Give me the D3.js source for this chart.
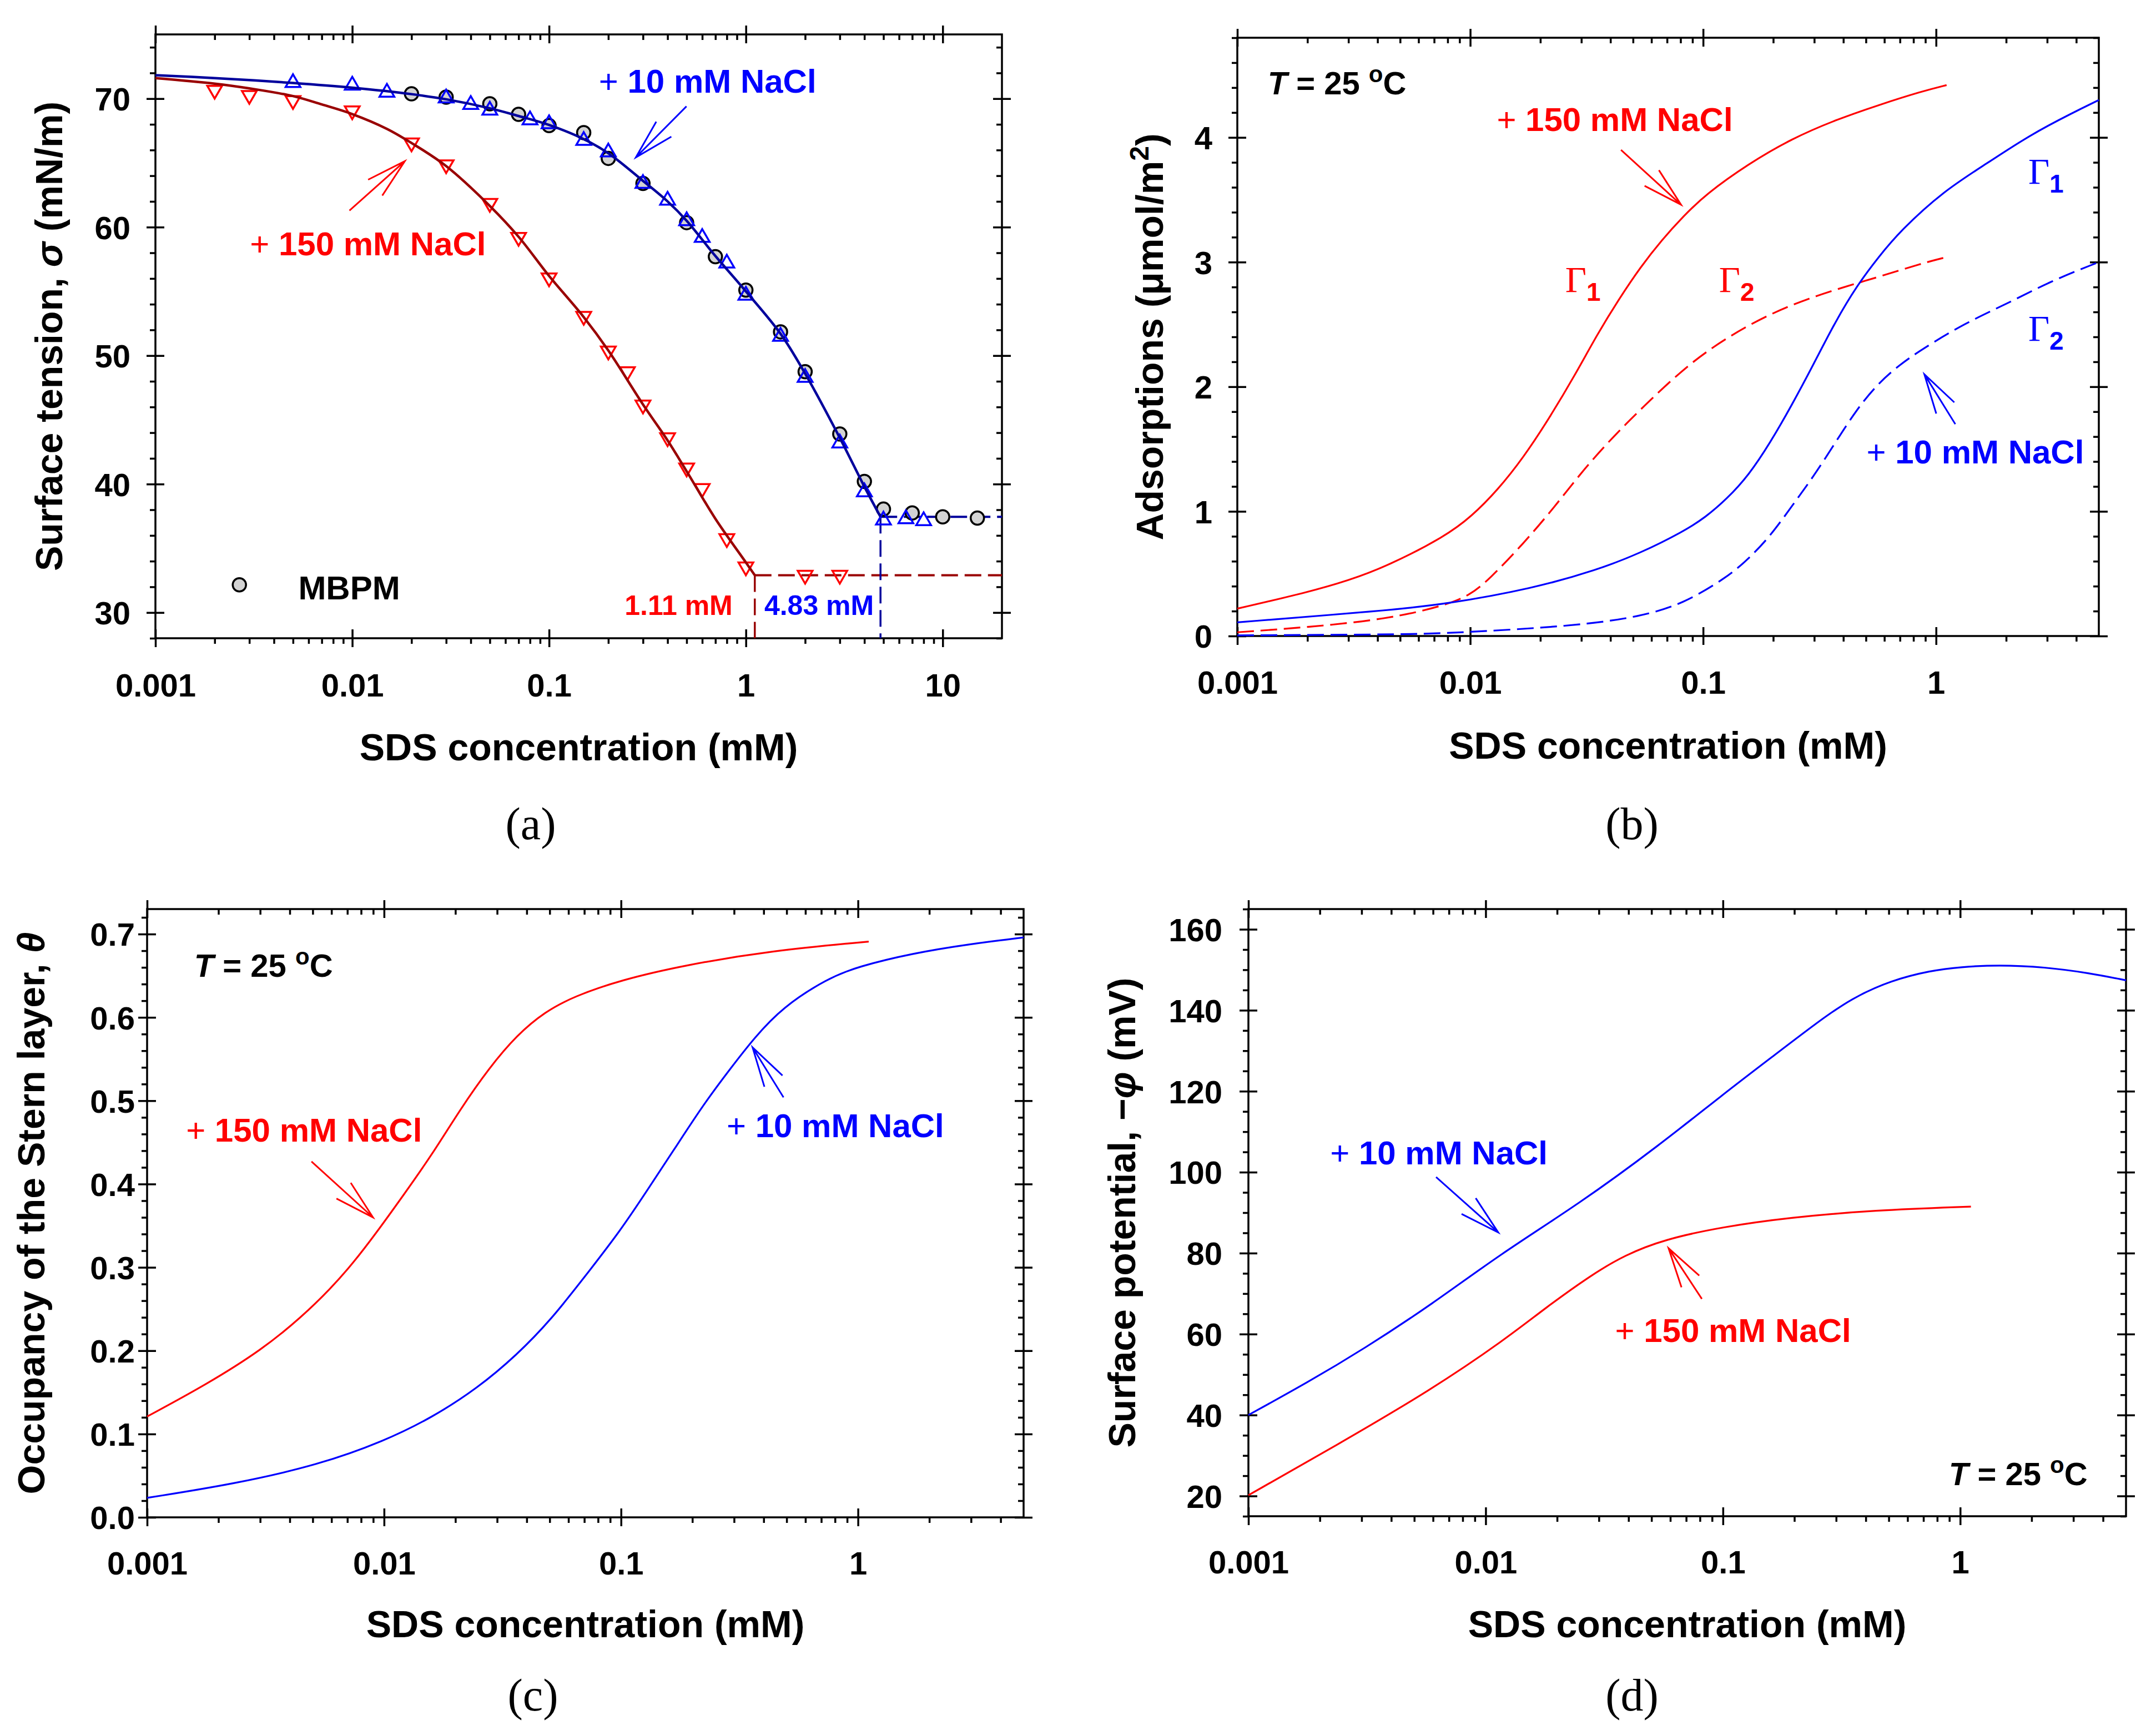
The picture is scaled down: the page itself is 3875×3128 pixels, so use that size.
<!DOCTYPE html>
<html><head><meta charset="utf-8">
<script src="https://cdn.jsdelivr.net/npm/d3@7"></script>
<style>body{margin:0;background:#fff}svg{display:block}</style>
</head><body>
<script>
// ================= DATA =================
// tick values / labels
const xTicksA = [0.001, 0.01, 0.1, 1, 10];
const xLabelsA = ["0.001", "0.01", "0.1", "1", "10"];
const xTicksBCD = [0.001, 0.01, 0.1, 1];
const xLabelsBCD = ["0.001", "0.01", "0.1", "1"];
const yTicksA = [30, 40, 50, 60, 70];
const yLabelsA = ["30", "40", "50", "60", "70"];
const yTicksB = [0, 1, 2, 3, 4];
const yLabelsB = ["0", "1", "2", "3", "4"];
const yTicksC = [0, 0.1, 0.2, 0.3, 0.4, 0.5, 0.6, 0.7];
const yLabelsC = ["0.0", "0.1", "0.2", "0.3", "0.4", "0.5", "0.6", "0.7"];
const yTicksD = [20, 40, 60, 80, 100, 120, 140, 160];
const yLabelsD = ["20", "40", "60", "80", "100", "120", "140", "160"];

// ---- panel (a): surface tension ----
const concA10 = [0.005, 0.01, 0.015, 0.03, 0.04, 0.05, 0.08, 0.1, 0.15, 0.2, 0.3, 0.4, 0.5, 0.6, 0.8, 1, 1.5, 2, 3, 4, 5, 6.5, 8];
const sigmaA10 = [71.4, 71.2, 70.65, 70.2, 69.7, 69.25, 68.5, 68.2, 66.9, 66.0, 63.55, 62.25, 60.65, 59.35, 57.35, 54.85, 51.65, 48.45, 43.35, 39.55, 37.35, 37.45, 37.3];
const concMBPM = [0.02, 0.03, 0.05, 0.07, 0.1, 0.15, 0.2, 0.3, 0.5, 0.7, 1, 1.5, 2, 3, 4, 5, 7, 10, 15];
const sigmaMBPM = [70.38, 70.12, 69.6, 68.78, 67.9, 67.35, 65.35, 63.4, 60.35, 57.7, 55.1, 51.85, 48.75, 43.9, 40.2, 38.05, 37.75, 37.45, 37.35];
const concA150 = [0.002, 0.003, 0.005, 0.01, 0.02, 0.03, 0.05, 0.07, 0.1, 0.15, 0.2, 0.25, 0.3, 0.4, 0.5, 0.6, 0.8, 1.0, 2, 3];
const sigmaA150 = [70.5, 70.1, 69.7, 68.9, 66.4, 64.7, 61.7, 59.05, 55.9, 52.9, 50.2, 48.6, 46.0, 43.45, 41.1, 39.5, 35.6, 33.4, 32.75, 32.75];
const fitA10 = [[0.001, 71.83], [0.002, 71.6], [0.005, 71.22], [0.01, 70.85], [0.02, 70.35], [0.03, 69.95], [0.05, 69.25], [0.07, 68.65], [0.1, 67.95], [0.15, 66.85], [0.2, 65.75], [0.3, 63.6], [0.4, 62.0], [0.5, 60.5], [0.7, 57.75], [1, 55.0], [1.5, 51.7], [2, 48.6], [3, 43.6], [4, 39.8], [4.83, 37.45]];
const fitA150 = [[0.001, 71.6], [0.002, 71.17], [0.003, 70.8], [0.005, 70.2], [0.007, 69.55], [0.01, 68.8], [0.015, 67.65], [0.02, 66.55], [0.03, 64.75], [0.05, 61.65], [0.07, 59.25], [0.1, 56.2], [0.15, 53.0], [0.2, 50.4], [0.3, 46.2], [0.4, 43.4], [0.5, 41.0], [0.7, 37.3], [1.0, 33.9], [1.11, 32.9]];
const cmcA = [1.11, 4.83];
const sigmaCmcA = [32.9, 37.45];
const cmcLabelsA = ["1.11 mM", "4.83 mM"];

// ---- panel (b): adsorptions ----
const gamma1_150 = [[0.001, 0.22], [0.002, 0.35], [0.003, 0.445], [0.0044, 0.56], [0.00783, 0.80], [0.01014, 0.96], [0.0131, 1.17], [0.0169, 1.43], [0.0219, 1.75], [0.0283, 2.10], [0.0351, 2.42], [0.0434, 2.70], [0.0538, 2.96], [0.0666, 3.18], [0.0825, 3.37], [0.102, 3.54], [0.157, 3.79], [0.24, 3.99], [0.369, 4.14], [0.566, 4.26], [0.869, 4.37], [1.11, 4.42]];
const gamma2_150 = [[0.001, 0.03], [0.002, 0.07], [0.0044, 0.135], [0.00783, 0.245], [0.01, 0.33], [0.012, 0.45], [0.0169, 0.74], [0.0229, 1.03], [0.0308, 1.34], [0.0416, 1.61], [0.0561, 1.85], [0.0757, 2.08], [0.102, 2.28], [0.157, 2.50], [0.24, 2.66], [0.369, 2.78], [0.566, 2.88], [0.869, 2.99], [1.11, 3.04]];
const gamma1_10 = [[0.001, 0.11], [0.0044, 0.205], [0.00783, 0.255], [0.01845, 0.38], [0.0351, 0.53], [0.0538, 0.665], [0.0825, 0.84], [0.102, 0.95], [0.1265, 1.10], [0.157, 1.29], [0.194, 1.55], [0.24, 1.85], [0.298, 2.18], [0.369, 2.52], [0.457, 2.81], [0.566, 3.04], [0.702, 3.25], [1.077, 3.57], [1.65, 3.79], [2.53, 4.02], [3.88, 4.20], [5, 4.30]];
const gamma2_10 = [[0.001, 0.005], [0.0044, 0.012], [0.00783, 0.02], [0.0283, 0.08], [0.0538, 0.155], [0.0825, 0.26], [0.1265, 0.47], [0.157, 0.62], [0.194, 0.80], [0.24, 1.04], [0.298, 1.28], [0.369, 1.55], [0.457, 1.82], [0.566, 2.03], [0.702, 2.18], [0.869, 2.30], [1.33, 2.51], [2.04, 2.67], [3.13, 2.85], [5, 3.0]];

// ---- panel (c): occupancy theta ----
const theta150 = [[0.001, 0.121], [0.00177, 0.159], [0.00307, 0.2016], [0.00451, 0.241], [0.00593, 0.274], [0.0074, 0.305], [0.0092, 0.340], [0.0121, 0.387], [0.016, 0.436], [0.021, 0.490], [0.0277, 0.539], [0.0364, 0.579], [0.0479, 0.607], [0.0631, 0.625], [0.1, 0.645], [0.188, 0.663], [0.428, 0.680], [1.11, 0.691]];
const theta10 = [[0.001, 0.0234], [0.00233, 0.040], [0.0053, 0.063], [0.01, 0.0914], [0.016, 0.120], [0.0248, 0.155], [0.0364, 0.195], [0.0506, 0.237], [0.07, 0.288], [0.1, 0.345], [0.128, 0.391], [0.169, 0.443], [0.222, 0.495], [0.292, 0.540], [0.364, 0.575], [0.479, 0.612], [0.746, 0.647], [1, 0.661], [1.7, 0.677], [2.95, 0.688], [5, 0.696]];

// ---- panel (d): surface potential ----
const psi10 = [[0.001, 40.0], [0.00177, 48.0], [0.00306, 56.3], [0.00592, 67.3], [0.01148, 79.7], [0.0248, 92.2], [0.0535, 106.5], [0.1, 119.2], [0.1614, 128.5], [0.251, 137.1], [0.349, 143.0], [0.513, 147.4], [0.752, 149.8], [1, 150.7], [1.45, 151.2], [2.26, 150.7], [3.51, 149.2], [5, 147.4]];
const psi150 = [[0.001, 20.2], [0.00233, 32.4], [0.00592, 46.3], [0.0121, 58.7], [0.0178, 66.4], [0.0277, 74.5], [0.0385, 79.5], [0.0566, 83.4], [0.1, 86.5], [0.19, 88.8], [0.433, 90.6], [1.11, 91.5]];

// ---- annotation anchors (data units) ----
const labelPosA = [[0.179, 70.47], [0.00302, 57.8]];           // +10, +150
const arrowsA = [[[0.276, 65.43], [0.499, 69.4]], [[0.0185, 65.13], [0.00968, 61.29]]]; // [tip, tail]
const legendA = [[0.00267, 32.16], [0.00532, 31.03]];
const labelPosB = [[0.503, 1.385], [0.0130, 4.05]];
const arrowsB = [[[0.891, 2.10], [1.21, 1.70]], [[0.0804, 3.46], [0.0444, 3.90]]];
const gammaPosB = [[0.0256, 2.76], [0.117, 2.76], [2.49, 3.63], [2.49, 2.37]];
const tempPosB = [0.00135, 4.345];
const labelPosC = [[0.279, 0.456], [0.00146, 0.451]];
const arrowsC = [[[0.359, 0.564], [0.485, 0.504]], [[0.00898, 0.360], [0.00494, 0.427]]];
const tempPosC = [0.00158, 0.649];
const labelPosD = [[0.00221, 101.9], [0.0351, 58.1]];
const arrowsD = [[[0.0113, 85.1], [0.00618, 98.8]], [[0.0590, 81.2], [0.0815, 68.7]]];
const tempPosD = [3.44, 22.7];

// ================= DRAWING =================
const W = 3875, H = 3128;
const SANS = "'Liberation Sans', Arial, Helvetica, sans-serif";
const SERIF = "'Liberation Serif', 'Times New Roman', serif";
const RED = "#ff0000", BLUE = "#0000ff", DRED = "#990000", DBLUE = "#00009c";

const svg = d3.select("body").append("svg").attr("width", W).attr("height", H).attr("viewBox", `0 0 ${W} ${H}`);
svg.append("rect").attr("width", W).attr("height", H).attr("fill", "#fff");

function makePanel(L) {
  const x = d3.scaleLog().domain(L.xDom).range([L.left, L.right]);
  const y = d3.scaleLinear().domain(L.yDom).range([L.bottom, L.top]);
  const g = svg.append("g");
  const xMinor = [];
  for (let e = -3; e <= 1; e++) for (let m = 2; m <= 9; m++) {
    const v = +(m * Math.pow(10, e)).toPrecision(3);
    if (v < L.xDom[1] * 0.999) xMinor.push(v);
  }
  const yMinor = [];
  const n0 = Math.ceil(L.yDom[0] / L.yMinorStep - 1e-9), n1 = Math.floor(L.yDom[1] / L.yMinorStep + 1e-9);
  for (let i = n0; i <= n1; i++) {
    const v = +(i * L.yMinorStep).toFixed(6);
    if (!L.yTicks.some(t => Math.abs(t - v) < 1e-9)) yMinor.push(v);
  }
  const style = s => { s.select(".domain").remove(); s.selectAll("line").attr("stroke", "#000").attr("stroke-width", 3.5); };
  const add = (axis, tx, ty) => g.append("g").attr("transform", `translate(${tx},${ty})`).call(axis).call(style);
  const MJ = 16, MN = 10;
  // bottom
  const bl = add(d3.axisBottom(x).tickValues(L.xTicks).tickSize(MJ).tickFormat((d, i) => L.xLabels[i]), 0, L.bottom);
  add(d3.axisTop(x).tickValues(L.xTicks).tickSize(MJ).tickFormat(""), 0, L.bottom);
  add(d3.axisBottom(x).tickValues(xMinor).tickSize(MN).tickFormat(""), 0, L.bottom);
  // top
  add(d3.axisTop(x).tickValues(L.xTicks).tickSize(MJ).tickFormat(""), 0, L.top);
  add(d3.axisBottom(x).tickValues(L.xTicks).tickSize(MJ).tickFormat(""), 0, L.top);
  add(d3.axisBottom(x).tickValues(xMinor).tickSize(MN).tickFormat(""), 0, L.top);
  // left
  const ll = add(d3.axisLeft(y).tickValues(L.yTicks).tickSize(MJ).tickFormat((d, i) => L.yLabels[i]), L.left, 0);
  add(d3.axisRight(y).tickValues(L.yTicks).tickSize(MJ).tickFormat(""), L.left, 0);
  add(d3.axisLeft(y).tickValues(yMinor).tickSize(MN).tickFormat(""), L.left, 0);
  // right
  add(d3.axisLeft(y).tickValues(L.yTicks).tickSize(MJ).tickFormat(""), L.right, 0);
  add(d3.axisRight(y).tickValues(L.yTicks).tickSize(MJ).tickFormat(""), L.right, 0);
  add(d3.axisLeft(y).tickValues(yMinor).tickSize(MN).tickFormat(""), L.right, 0);
  g.append("rect").attr("x", L.left).attr("y", L.top).attr("width", L.right - L.left).attr("height", L.bottom - L.top)
    .attr("fill", "none").attr("stroke", "#000").attr("stroke-width", 3.5);
  bl.selectAll("text").attr("y", L.xLabelOff).attr("dy", null)
    .attr("font-family", SANS).attr("font-weight", "bold").attr("font-size", 58).attr("fill", "#000");
  ll.selectAll("text").attr("x", -L.yLabelGap).attr("dy", "0.36em")
    .attr("font-family", SANS).attr("font-weight", "bold").attr("font-size", 58).attr("fill", "#000");
  // x title
  svg.append("text").attr("x", (L.left + L.right) / 2).attr("y", L.xTitleY).attr("text-anchor", "middle")
    .attr("font-family", SANS).attr("font-weight", "bold").attr("font-size", 68).text("SDS concentration (mM)");
  // panel letter
  svg.append("text").attr("x", L.letterX).attr("y", L.letterY).attr("text-anchor", "middle")
    .attr("font-family", SERIF).attr("font-size", 82).text(L.letter);
  // y title
  const yt = svg.append("text").attr("transform", `translate(${L.yTitleX},${(L.top + L.bottom) / 2}) rotate(-90)`)
    .attr("text-anchor", "middle").attr("font-family", SANS).attr("font-weight", "bold").attr("font-size", 68);
  L.yTitle(yt);
  return { g, x, y };
}

function curve(P, data, color, width, dash, smooth) {
  const gen = d3.line().x(d => P.x(d[0])).y(d => P.y(d[1]))
    .curve(smooth ? d3.curveBasis : d3.curveCatmullRom.alpha(0.5));
  const p = P.g.append("path").attr("d", gen(data)).attr("fill", "none").attr("stroke", color)
    .attr("stroke-width", width).attr("stroke-linejoin", "round");
  if (dash) p.attr("stroke-dasharray", dash);
}
function arrow(P, tip, tail, color) {
  const tx = P.x(tip[0]), ty = P.y(tip[1]), sx = P.x(tail[0]), sy = P.y(tail[1]);
  const ang = Math.atan2(sy - ty, sx - tx), len = 74, da = 15 * Math.PI / 180;
  const p = d3.path();
  p.moveTo(sx, sy); p.lineTo(tx, ty);
  p.moveTo(tx + len * Math.cos(ang + da), ty + len * Math.sin(ang + da));
  p.lineTo(tx, ty);
  p.lineTo(tx + len * Math.cos(ang - da), ty + len * Math.sin(ang - da));
  P.g.append("path").attr("d", p.toString()).attr("fill", "none").attr("stroke", color).attr("stroke-width", 3);
}
function saltLabel(P, pos, txt, color) {
  const t = P.g.append("text").attr("x", P.x(pos[0])).attr("y", P.y(pos[1])).attr("fill", color)
    .attr("font-family", SANS).attr("font-weight", "bold").attr("font-size", 60);
  t.append("tspan").attr("font-weight", "normal").text("+");
  t.append("tspan").text(" " + txt);
}
function tempLabel(P, pos, anchor) {
  const t = P.g.append("text").attr("x", P.x(pos[0])).attr("y", P.y(pos[1])).attr("text-anchor", anchor || "start")
    .attr("font-family", SANS).attr("font-weight", "bold").attr("font-size", 58).attr("fill", "#000");
  t.append("tspan").attr("font-style", "italic").text("T");
  t.append("tspan").text(" = 25 ");
  t.append("tspan").attr("dy", -22).attr("font-size", 42).text("o");
  t.append("tspan").attr("dy", 22).text("C");
}

// ---------- panel (a) ----------
const PA = makePanel({
  left: 280, right: 1805, top: 62, bottom: 1150, xDom: [0.001, 20], yDom: [28, 75],
  xTicks: xTicksA, xLabels: xLabelsA, yTicks: yTicksA, yLabels: yLabelsA, yMinorStep: 2,
  xLabelOff: 105, yLabelGap: 45, xTitleY: 1370, letter: "(a)", letterX: 956, letterY: 1512, yTitleX: 112,
  yTitle: t => { t.append("tspan").text("Surface tension, "); t.append("tspan").attr("font-style", "italic").text("σ"); t.append("tspan").text(" (mN/m)"); }
});
// cmc dashed guides
cmcA.forEach((c, i) => {
  const col = i === 0 ? DRED : DBLUE;
  PA.g.append("line").attr("x1", PA.x(c)).attr("x2", PA.x(c)).attr("y1", PA.y(sigmaCmcA[i])).attr("y2", PA.y(28))
    .attr("stroke", col).attr("stroke-width", 3.5).attr("stroke-dasharray", "30,12");
  PA.g.append("line").attr("x1", PA.x(c)).attr("x2", PA.x(20)).attr("y1", PA.y(sigmaCmcA[i])).attr("y2", PA.y(sigmaCmcA[i]))
    .attr("stroke", col).attr("stroke-width", 4).attr("stroke-dasharray", "30,12");
});
// markers
const triUp = "M0,-11.5L13.3,11.5L-13.3,11.5Z", triDown = "M0,11.5L13.3,-11.5L-13.3,-11.5Z";
PA.g.selectAll(".mb").data(concMBPM).join("circle").attr("cx", d => PA.x(d)).attr("cy", (d, i) => PA.y(sigmaMBPM[i]))
  .attr("r", 12).attr("fill", "#d3d3d3").attr("stroke", "#000").attr("stroke-width", 3.5);
PA.g.selectAll(".t10").data(concA10).join("path").attr("d", triUp)
  .attr("transform", (d, i) => `translate(${PA.x(d)},${PA.y(sigmaA10[i])})`).attr("fill", "none").attr("stroke", BLUE).attr("stroke-width", 3.5);
PA.g.selectAll(".t150").data(concA150).join("path").attr("d", triDown)
  .attr("transform", (d, i) => `translate(${PA.x(d)},${PA.y(sigmaA150[i])})`).attr("fill", "none").attr("stroke", RED).attr("stroke-width", 3.5);
curve(PA, fitA10, DBLUE, 4.5);
curve(PA, fitA150, DRED, 4.5);
saltLabel(PA, labelPosA[0], "10 mM NaCl", BLUE);
saltLabel(PA, labelPosA[1], "150 mM NaCl", RED);
arrow(PA, arrowsA[0][0], arrowsA[0][1], BLUE);
arrow(PA, arrowsA[1][0], arrowsA[1][1], RED);
PA.g.append("circle").attr("cx", PA.x(legendA[0][0])).attr("cy", PA.y(legendA[0][1])).attr("r", 12)
  .attr("fill", "#d3d3d3").attr("stroke", "#000").attr("stroke-width", 3.5);
PA.g.append("text").attr("x", PA.x(legendA[1][0])).attr("y", PA.y(legendA[1][1])).attr("font-family", SANS)
  .attr("font-weight", "bold").attr("font-size", 60).text("MBPM");
PA.g.append("text").attr("x", PA.x(cmcA[0]) - 40).attr("y", PA.y(29.8)).attr("text-anchor", "end").attr("fill", RED)
  .attr("font-family", SANS).attr("font-weight", "bold").attr("font-size", 50).text(cmcLabelsA[0]);
PA.g.append("text").attr("x", PA.x(cmcA[1]) - 12).attr("y", PA.y(29.8)).attr("text-anchor", "end").attr("fill", BLUE)
  .attr("font-family", SANS).attr("font-weight", "bold").attr("font-size", 50).text(cmcLabelsA[1]);

// ---------- panel (b) ----------
const PB = makePanel({
  left: 2229, right: 3781, top: 68, bottom: 1146, xDom: [0.001, 5], yDom: [0, 4.8],
  xTicks: xTicksBCD, xLabels: xLabelsBCD, yTicks: yTicksB, yLabels: yLabelsB, yMinorStep: 0.2,
  xLabelOff: 104, yLabelGap: 45, xTitleY: 1367, letter: "(b)", letterX: 2940, letterY: 1512, yTitleX: 2095,
  yTitle: t => { t.append("tspan").text("Adsorptions (μmol/m"); t.append("tspan").attr("dy", -26).attr("font-size", 48).text("2"); t.append("tspan").attr("dy", 26).text(")"); }
});
curve(PB, gamma1_150, RED, 3.2, null, true);
curve(PB, gamma2_150, RED, 3.2, "30,12", true);
curve(PB, gamma1_10, BLUE, 3.2, null, true);
curve(PB, gamma2_10, BLUE, 3.2, "30,12", true);
tempLabel(PB, tempPosB);
saltLabel(PB, labelPosB[0], "10 mM NaCl", BLUE);
saltLabel(PB, labelPosB[1], "150 mM NaCl", RED);
arrow(PB, arrowsB[0][0], arrowsB[0][1], BLUE);
arrow(PB, arrowsB[1][0], arrowsB[1][1], RED);
const gammaSub = ["1", "2", "1", "2"], gammaCol = [RED, RED, BLUE, BLUE];
gammaPosB.forEach((p, i) => {
  const t = PB.g.append("text").attr("x", PB.x(p[0])).attr("y", PB.y(p[1])).attr("fill", gammaCol[i]);
  t.append("tspan").attr("font-family", SERIF).attr("font-size", 66).text("Γ");
  t.append("tspan").attr("font-family", SANS).attr("font-weight", "bold").attr("font-size", 46).attr("dy", 16).text(gammaSub[i]);
});

// ---------- panel (c) ----------
const PC = makePanel({
  left: 265, right: 1844, top: 1638, bottom: 2734, xDom: [0.001, 5], yDom: [0, 0.73],
  xTicks: xTicksBCD, xLabels: xLabelsBCD, yTicks: yTicksC, yLabels: yLabelsC, yMinorStep: 0.02,
  xLabelOff: 103, yLabelGap: 22, xTitleY: 2950, letter: "(c)", letterX: 960, letterY: 3082, yTitleX: 80,
  yTitle: t => { t.append("tspan").text("Occupancy of the Stern layer, "); t.append("tspan").attr("font-style", "italic").text("θ"); }
});
curve(PC, theta150, RED, 3.2, null, true);
curve(PC, theta10, BLUE, 3.2, null, true);
tempLabel(PC, tempPosC);
saltLabel(PC, labelPosC[0], "10 mM NaCl", BLUE);
saltLabel(PC, labelPosC[1], "150 mM NaCl", RED);
arrow(PC, arrowsC[0][0], arrowsC[0][1], BLUE);
arrow(PC, arrowsC[1][0], arrowsC[1][1], RED);

// ---------- panel (d) ----------
const PD = makePanel({
  left: 2249, right: 3830, top: 1638, bottom: 2732, xDom: [0.001, 5], yDom: [15, 165],
  xTicks: xTicksBCD, xLabels: xLabelsBCD, yTicks: yTicksD, yLabels: yLabelsD, yMinorStep: 5,
  xLabelOff: 103, yLabelGap: 47, xTitleY: 2950, letter: "(d)", letterX: 2940, letterY: 3082, yTitleX: 2045,
  yTitle: t => { t.append("tspan").text("Surface potential, −"); t.append("tspan").attr("font-style", "italic").text("φ"); t.append("tspan").text(" (mV)"); }
});
curve(PD, psi10, BLUE, 3.2, null, true);
curve(PD, psi150, RED, 3.2, null, true);
tempLabel(PD, tempPosD, "end");
saltLabel(PD, labelPosD[0], "10 mM NaCl", BLUE);
saltLabel(PD, labelPosD[1], "150 mM NaCl", RED);
arrow(PD, arrowsD[0][0], arrowsD[0][1], BLUE);
arrow(PD, arrowsD[1][0], arrowsD[1][1], RED);
</script>
</body></html>
